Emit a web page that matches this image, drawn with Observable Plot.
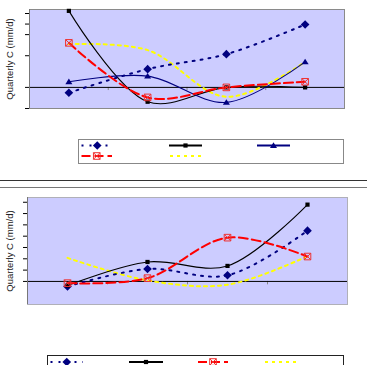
<!DOCTYPE html>
<html><head><meta charset="utf-8">
<script src="https://cdn.jsdelivr.net/npm/d3@7"></script>
<script src="https://cdn.jsdelivr.net/npm/@observablehq/plot@0.6"></script>
<style>
body{margin:0;background:#fff;}
#wrap{position:relative;width:367px;height:365px;overflow:hidden;background:#fff;font-family:"Liberation Sans",Arial,sans-serif;}
#wrap > *{position:absolute;}
</style></head><body><div id="wrap"></div>
<script>
// ---------- data ----------
const quarters = ["Q1", "Q2", "Q3", "Q4"];
const yLabel = "Quarterly C (mm/d)";

// upper chart
const topDiamond  = [-0.51, 1.73, 3.15, 5.96];
const topSquare   = [7.25, -1.36, 0, 0];
const topTriangle = [0.53, 1.07, -1.42, 2.42];
const topCross    = [4.22, -0.95, 0, 0.53];
const topYellow   = [4.1, 3.53, -0.89, 2.42];
const topTicks    = [-2, 0, 3, 5, 6, 7];
const topDomain   = [-2, 7.38];

// lower chart
const botDiamond = [-0.45, 1.1, 0.54, 4.49];
const botSquare  = [-0.36, 1.72, 1.37, 6.79];
const botCross   = [-0.15, 0.29, 3.87, 2.2];
const botYellow  = [2.08, 0.09, -0.29, 2.23];
const botTicks   = [0, 1, 2, 3, 4, 5, 6, 7];
const botDomain  = [-2.04, 7.42];

// ---------- styles ----------
const rotSquare = {draw(ctx, size){ const a = Math.sqrt(size/Math.PI); ctx.moveTo(0,-a); ctx.lineTo(a,0); ctx.lineTo(0,a); ctx.lineTo(-a,0); ctx.closePath(); }};
const boxSquare = {draw(ctx, size){ const a = Math.sqrt(size/Math.PI); ctx.rect(-a,-a,2*a,2*a); }};
const xBox = {draw(ctx, size){ const a = Math.sqrt(size/Math.PI); ctx.rect(-a,-a,2*a,2*a); ctx.moveTo(-a,-a); ctx.lineTo(a,a); ctx.moveTo(a,-a); ctx.lineTo(-a,a); }};
const triSym = {draw(ctx, size){ const a = Math.sqrt(size/Math.PI); ctx.moveTo(0,-a); ctx.lineTo(a*1.1,a*0.75); ctx.lineTo(-a*1.1,a*0.75); ctx.closePath(); }};

const S = {
  diamond:  {stroke:"#000080", width:2,   dash:"2,6", sym:rotSquare, r:4.3, fill:"#000080", mstroke:"none"},
  square:   {stroke:"#000000", width:1.1, dash:null,  sym:boxSquare, r:2.1, fill:"#000000", mstroke:"none"},
  triangle: {stroke:"#000080", width:1.1, dash:null,  sym:triSym,    r:3.2, fill:"#000080", mstroke:"none"},
  cross:    {stroke:"#ff0000", width:2,   dash:"9,4", sym:xBox,      r:3.3, fill:"none",    mstroke:"#ee3333"},
  yellow:   {stroke:"#ffff00", width:2,   dash:"3,4", sym:null}
};

function seriesMarks(values, st){
  const marks = [Plot.line(values, {x:(d,i)=>i, y:d=>d, curve:"catmull-rom", stroke:st.stroke, strokeWidth:st.width, strokeDasharray:st.dash})];
  if (st.sym) marks.push(Plot.dot(values, {x:(d,i)=>i, y:d=>d, symbol:st.sym, r:st.r, fill:st.fill, stroke:st.mstroke, strokeWidth:1}));
  return marks;
}

function panel({height, mt, mb, ml, mr, domain, ticks, series, frameStroke}){
  const boundaries = quarters.slice(1).map((_, i) => i + 0.5);
  return Plot.plot({
    width: 367, height, marginTop: mt, marginBottom: mb, marginLeft: ml, marginRight: mr,
    style: {fontFamily:"Liberation Sans, Arial, sans-serif", background:"transparent", overflow:"visible"},
    x: {domain:[-0.5, quarters.length - 0.5], axis:null},
    y: {domain},
    marks: [
      Plot.frame({fill:"#ccccff", stroke:frameStroke}),
      Plot.ruleX(boundaries, {y1:0, y2:-0.3, stroke:"#888"}),
      Plot.ruleY([0], {stroke:"#000"}),
      Plot.axisY({ticks, tickSize:4, tickFormat:()=>"", label:null, stroke:"#000"}),
      Plot.ruleX([-0.5], {stroke:"#777"}),
      Plot.text([yLabel], {frameAnchor:"left", textAnchor:"middle", lineAnchor:"middle", dx:9 - ml, rotate:-90, fontSize:9.5, fill:"#222"}),
      ...series.flatMap(([v, st]) => seriesMarks(v, st))
    ]
  });
}

const wrap = document.getElementById("wrap");

const p1 = panel({height:110, mt:9, mb:2, ml:29, mr:23, domain:topDomain, ticks:topTicks, frameStroke:"#8a8a8a",
  series:[[topYellow,S.yellow],[topSquare,S.square],[topTriangle,S.triangle],[topDiamond,S.diamond],[topCross,S.cross]]});
p1.style.left = "0px"; p1.style.top = "0px";
wrap.appendChild(p1);

const p2 = panel({height:116, mt:7, mb:2, ml:27, mr:20, domain:botDomain, ticks:botTicks, frameStroke:"#b0b0b8",
  series:[[botYellow,S.yellow],[botDiamond,S.diamond],[botSquare,S.square],[botCross,S.cross]]});
p2.style.left = "0px"; p2.style.top = "190px";
wrap.appendChild(p2);

// separator lines
function hline(top, color){ const d = document.createElement("div"); d.style.cssText = `left:0;top:${top}px;width:367px;height:1px;background:${color}`; wrap.appendChild(d); }
hline(180, "#333");
hline(187, "#777");

// legends (swatches only, no labels as in the reference)
function legend({left, top, w, h, border, items}){
  const svg = d3.create("svg").attr("width", w).attr("height", h)
    .style("left", left + "px").style("top", top + "px").style("position","absolute");
  svg.append("rect").attr("x",0.5).attr("y",0.5).attr("width",w-1).attr("height",h-1).attr("fill","#fff").attr("stroke",border);
  for (const [st, x0, x1, y] of items){
    svg.append("line").attr("x1",x0).attr("x2",x1).attr("y1",y).attr("y2",y)
      .attr("stroke",st.stroke).attr("stroke-width",st === S.square || st === S.triangle ? 2 : st.width)
      .attr("stroke-dasharray",st.dash);
    if (st.sym){
      const size = Math.PI * st.r * st.r;
      const p = d3.path(); st.sym.draw(p, size);
      svg.append("path").attr("d", p.toString()).attr("transform",`translate(${(x0+x1)/2},${y})`)
        .attr("fill",st.fill).attr("stroke",st.mstroke);
    }
  }
  wrap.appendChild(svg.node());
}
legend({left:78, top:139, w:266, h:25, border:"#888", items:[
  [S.diamond, 3.5, 35, 6.5], [S.square, 91, 124, 6.5], [S.triangle, 179, 212, 6.5],
  [S.cross, 3.5, 34, 17], [S.yellow, 92, 124, 17]
]});
legend({left:47, top:355, w:297, h:20, border:"#222", items:[
  [S.diamond, 3.5, 36, 7], [S.square, 82, 116, 7], [S.cross, 151, 181, 7], [S.yellow, 218, 250, 7]
]});
</script></body></html>
